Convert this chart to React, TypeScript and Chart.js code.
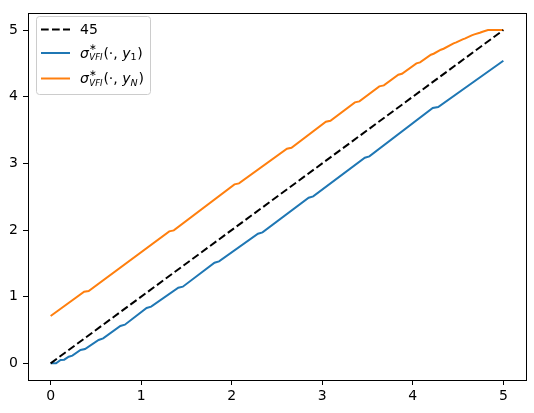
import React, { useEffect, useRef } from "react";
import { Chart, registerables } from "chart.js";

Chart.register(...registerables);

const xTicks = [0, 1, 2, 3, 4, 5];
const yTicks = [0, 1, 2, 3, 4, 5];

const diagX = [0, 5];
const diagY = [0, 5];

const blueX = [0, 0.06, 0.11, 0.15, 0.2, 0.24, 0.33, 0.38, 0.53, 0.58, 0.77, 0.82, 1.06, 1.11, 1.41, 1.46, 1.81, 1.86, 2.29, 2.34, 2.85, 2.9, 3.47, 3.52, 4.22, 4.28, 5.0];
const blueY = [0, 0, 0.05, 0.055, 0.1, 0.115, 0.2, 0.215, 0.35, 0.375, 0.56, 0.58, 0.83, 0.85, 1.135, 1.15, 1.51, 1.53, 1.945, 1.965, 2.485, 2.505, 3.085, 3.105, 3.83, 3.845, 4.54];

const orangeX = [0, 0.37, 0.42, 1.31, 1.36, 2.03, 2.08, 2.61, 2.66, 3.04, 3.09, 3.36, 3.41, 3.63, 3.68, 3.84, 3.88, 4.04, 4.08, 4.2, 4.23, 4.31, 4.34, 4.45, 4.48, 4.55, 4.58, 4.65, 4.68, 4.74, 4.77, 4.83, 5.0];
const orangeY = [0.71, 1.075, 1.085, 1.98, 1.995, 2.685, 2.7, 3.22, 3.235, 3.625, 3.64, 3.915, 3.93, 4.155, 4.17, 4.33, 4.345, 4.5, 4.515, 4.63, 4.645, 4.705, 4.72, 4.8, 4.815, 4.86, 4.875, 4.92, 4.935, 4.96, 4.975, 5.0, 5.0];

const legendLabels = ["45", "1", "N"];

const BLUE = "#1f77b4";
const ORANGE = "#ff7f0e";
const FONT = "'DejaVu Sans', sans-serif";

function toPts(xs: number[], ys: number[]) {
  return xs.map((x, i) => ({ x, y: ys[i] }));
}

function drawMathLabel(ctx: CanvasRenderingContext2D, x0: number, cy: number, sub: string, subItalic: boolean) {
  const base = cy + 4.5;
  ctx.fillStyle = "#000";
  ctx.textAlign = "left";
  ctx.textBaseline = "alphabetic";
  ctx.font = `italic 14px ${FONT}`;
  ctx.fillText("σ", x0, base);
  let x = x0 + ctx.measureText("σ").width + 0.5;
  ctx.font = `9px ${FONT}`;
  ctx.fillText("∗", x, base - 7.5);
  const supW = ctx.measureText("∗").width;
  ctx.font = `italic 8.5px ${FONT}`;
  ctx.fillText("VFI", x, base + 2.5);
  const subW = ctx.measureText("VFI").width;
  x += Math.max(supW, subW) + 0.8;
  ctx.font = `14px ${FONT}`;
  ctx.fillText("(·, ", x, base);
  x += ctx.measureText("(·, ").width;
  ctx.font = `italic 14px ${FONT}`;
  ctx.fillText("y", x, base);
  x += ctx.measureText("y").width;
  ctx.font = `${subItalic ? "italic " : ""}9.5px ${FONT}`;
  ctx.fillText(sub, x, base + 2.5);
  x += ctx.measureText(sub).width + 0.8;
  ctx.font = `14px ${FONT}`;
  ctx.fillText(")", x, base);
}

const framePlugin = {
  id: "frameAndLegend",
  afterDraw(chart: any) {
    const ctx: CanvasRenderingContext2D = chart.ctx;
    const a = chart.chartArea;
    ctx.save();
    ctx.strokeStyle = "#000";
    ctx.lineWidth = 1;
    ctx.setLineDash([]);
    ctx.strokeRect(Math.round(a.left) + 0.5, Math.round(a.top) + 0.5, Math.round(a.right - a.left), Math.round(a.bottom - a.top));

    // legend
    const bx = 36.5, by = 16.5, bw = 114, bh = 78;
    ctx.beginPath();
    (ctx as any).roundRect(bx, by, bw, bh, 3);
    ctx.fillStyle = "rgba(255,255,255,0.8)";
    ctx.fill();
    ctx.strokeStyle = "#cccccc";
    ctx.lineWidth = 1;
    ctx.stroke();

    const rows = [29.5, 53, 78.5];
    const colors = ["#000", BLUE, ORANGE];
    rows.forEach((ry, i) => {
      ctx.beginPath();
      ctx.strokeStyle = colors[i];
      ctx.lineWidth = 2;
      ctx.setLineDash(i === 0 ? [7.7, 3.3] : []);
      ctx.moveTo(41, ry);
      ctx.lineTo(70, ry);
      ctx.stroke();
    });
    ctx.setLineDash([]);
    ctx.fillStyle = "#000";
    ctx.font = `14px ${FONT}`;
    ctx.textBaseline = "middle";
    ctx.fillText(legendLabels[0], 80, rows[0] + 0.5);
    drawMathLabel(ctx, 80, rows[1], legendLabels[1], false);
    drawMathLabel(ctx, 80, rows[2], legendLabels[2], true);
    ctx.restore();
  },
};

export default function App() {
  const ref = useRef<HTMLCanvasElement | null>(null);
  useEffect(() => {
    document.body.style.margin = "0";
    const canvas = ref.current;
    if (!canvas) return;
    const chart = new Chart(canvas, {
      type: "line",
      data: {
        datasets: [
          {
            label: "45",
            data: toPts(diagX, diagY),
            borderColor: "#000",
            borderWidth: 2,
            borderDash: [7.7, 3.3],
            pointRadius: 0,
            tension: 0,
            fill: false,
          },
          {
            label: "sigma y1",
            data: toPts(blueX, blueY),
            borderColor: BLUE,
            borderWidth: 2,
            pointRadius: 0,
            tension: 0,
            fill: false,
          },
          {
            label: "sigma yN",
            data: toPts(orangeX, orangeY),
            borderColor: ORANGE,
            borderWidth: 2,
            pointRadius: 0,
            tension: 0,
            fill: false,
          },
        ],
      },
      options: {
        animation: false,
        responsive: false,
        devicePixelRatio: 1,
        layout: { padding: { top: 10, right: 8, left: 0, bottom: 0 } },
        plugins: { legend: { display: false }, tooltip: { enabled: false } },
        scales: {
          x: {
            type: "linear",
            min: -0.25,
            max: 5.25,
            afterBuildTicks: (s: any) => {
              s.ticks = xTicks.map((v) => ({ value: v }));
            },
            afterFit: (s: any) => {
              s.height = 33;
            },
            grid: { display: true, drawOnChartArea: false, drawTicks: true, tickLength: 5, tickColor: "#000", tickWidth: 1 },
            border: { display: true, color: "#000", width: 1 },
            ticks: { color: "#000", padding: 3, font: { family: FONT, size: 14 }, maxRotation: 0 },
          },
          y: {
            type: "linear",
            min: -0.25,
            max: 5.25,
            afterBuildTicks: (s: any) => {
              s.ticks = yTicks.map((v) => ({ value: v }));
            },
            afterFit: (s: any) => {
              s.width = 28;
            },
            grid: { display: true, drawOnChartArea: false, drawTicks: true, tickLength: 5, tickColor: "#000", tickWidth: 1 },
            border: { display: true, color: "#000", width: 1 },
            ticks: { color: "#000", padding: 5, font: { family: FONT, size: 14 } },
          },
        },
      },
      plugins: [framePlugin],
    } as any);
    return () => chart.destroy();
  }, []);
  return <canvas ref={ref} width={534} height={413} style={{ display: "block" }} />;
}
